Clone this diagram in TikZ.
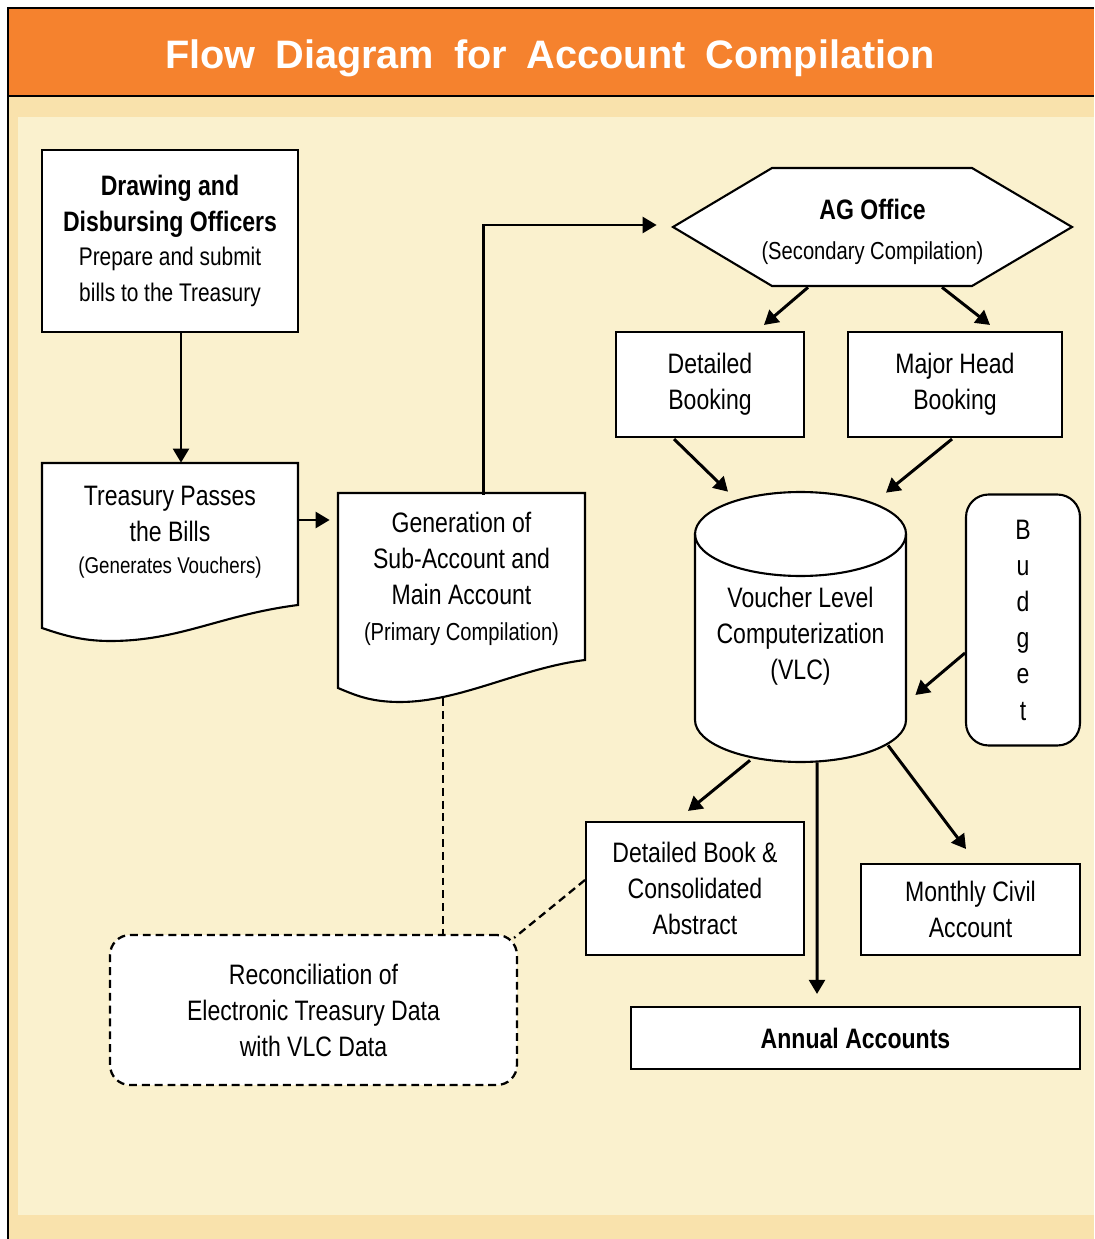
\documentclass[tikz,border=0pt]{standalone}
\usepackage{fontspec}
\setmainfont{Liberation Sans}[FakeStretch=0.82]
\newfontfamily\titlefont{Liberation Sans}[WordSpace=1.8]
\usepackage{xcolor}
\usetikzlibrary{arrows.meta,positioning,calc}
\definecolor{hdrorange}{RGB}{245,130,46}
\definecolor{bandbeige}{RGB}{249,226,172}
\definecolor{panelbeige}{RGB}{250,241,206}
\newcommand{\smalltxt}{\fontsize{14}{17}\selectfont}
\tikzset{
  box/.style={draw, fill=white, line width=1.2pt, align=center, inner sep=0pt},
  txt/.style={align=center, inner sep=0pt},
  shapeline/.style={draw, fill=white, line width=1.2pt},
  arrow/.style={-{Triangle[length=8pt,width=9pt]}, line width=1.7pt},
  dashline/.style={line width=1.3pt, dash pattern=on 4.5pt off 2.8pt}
}

\begin{document}
\begin{tikzpicture}[x=0.02cm, y=-0.02cm, font=\fontsize{16}{20.5}\selectfont]
    \useasboundingbox (0,0) rectangle (1094,1239);
    % Background and header
    \fill[bandbeige] (9,97) rectangle (1094,1239);
    \fill[panelbeige] (18,117) rectangle (1094,1215);
    \fill[hdrorange] (8,8) rectangle (1094,96);
    \draw[line width=1.2pt] (1094,8) -- (8,8) -- (8,1239);
    \draw[line width=1.2pt] (8,96) -- (1094,96);
    \node[txt, text=white] (title) at (550,58)
      {\titlefont\bfseries\fontsize{22.6}{26}\selectfont Flow Diagram for Account Compilation};
    % Left column
    \node[box, minimum width=5.12cm, minimum height=3.64cm] (ddo) at (170,241)
      {\textbf{Drawing and}\\\textbf{Disbursing Officers}\\[-1pt]
       {\fontsize{14.5}{19}\selectfont Prepare and submit}\\
       {\fontsize{14.5}{19}\selectfont bills to the Treasury}};
    \path[shapeline] (42,463) -- (298,463) -- (298,605)
      .. controls (220,615) and (180,641) .. (110,641)
      .. controls (80,641) and (60,634) .. (42,628) -- cycle;
    \node[txt, minimum width=5.12cm, minimum height=2.84cm] (tsy) at (170,532)
      {Treasury Passes\\the Bills\\[-2pt]{\fontsize{13}{16}\selectfont(Generates Vouchers)}};
    \path[shapeline] (338,493) -- (585,493) -- (585,660)
      .. controls (520,668) and (460,702) .. (400,702)
      .. controls (370,702) and (355,695) .. (338,688) -- cycle;
    \node[txt, minimum width=4.94cm, minimum height=3.34cm] (gen) at (461.5,578.5)
      {Generation of\\Sub-Account and\\Main Account\\{\smalltxt(Primary Compilation)}};
    \coordinate (genbot) at (443,698);
    % AG office and bookings
    \path[shapeline] (673,227) -- (772,168) -- (972,168) -- (1072,227)
      -- (972,286) -- (772,286) -- cycle;
    \node[txt, minimum width=7.98cm, minimum height=2.36cm] (ag) at (872.5,232)
      {\textbf{AG Office}\\[2pt]{\smalltxt(Secondary Compilation)}};
    \node[box, minimum width=3.76cm, minimum height=2.10cm] (db) at (710,384.5) {Detailed\\Booking};
    \node[box, minimum width=4.28cm, minimum height=2.10cm] (mhb) at (955,384.5) {Major Head\\Booking};
    % VLC cylinder
    \path[shapeline] (695,534) -- (695,720)
      arc[start angle=180, end angle=360, x radius=2.11cm, y radius=0.84cm]
      -- (906,534) arc[start angle=0, end angle=180, x radius=2.11cm, y radius=0.84cm] -- cycle;
    \draw[line width=1.2pt] (695,534) arc[start angle=180, end angle=360, x radius=2.11cm, y radius=0.84cm];
    \node[txt, minimum width=4.22cm, minimum height=5.40cm] (vlc) at (800.5,636)
      {Voucher Level\\Computerization\\(VLC)};
    \node[box, rounded corners=0.45cm, minimum width=2.28cm, minimum height=5.02cm,
      font=\fontsize{16}{20.6}\selectfont] (bud) at (1023,620) {B\\u\\d\\g\\e\\t};
    % Outputs
    \node[box, minimum width=4.36cm, minimum height=2.66cm] (dbca) at (695,888.5)
      {Detailed Book \&\\Consolidated\\Abstract};
    \node[box, minimum width=4.38cm, minimum height=1.82cm] (mca) at (970.5,909.5)
      {Monthly Civil\\Account};
    \node[box, minimum width=8.98cm, minimum height=1.24cm] (aa) at (855.5,1038)
      {\textbf{Annual Accounts}};
    \node[box, dashline, rounded corners=0.4cm, minimum width=8.14cm, minimum height=3.00cm] (rec) at (313.5,1010)
      {Reconciliation of\\Electronic Treasury Data\\with VLC Data};
    % Connectors
    \draw[arrow] ($(ddo.south)+(11,0)$) -- ($(tsy.north)+(11,2)$);
    \draw[arrow, shorten >=0.16cm] ($(tsy.east)+(0,-12)$) -- ($(gen.west)+(0,-58.5)$);
    \draw[arrow, shorten >=0.32cm] ($(gen.north)+(21.5,0)$) |- ($(ag.west)+(0,-7)$);
    \draw[arrow] ($(ag.south)+(-64.5,-4)$) -- ($(db.north)+(54,-6)$);
    \draw[arrow] ($(ag.south)+(69.5,-4)$) -- ($(mhb.north)+(35,-6)$);
    \draw[arrow] ($(db.south)+(-36,1)$) -- ($(vlc.north)+(-72.5,-9)$);
    \draw[arrow] ($(mhb.south)+(-3,1)$) -- ($(vlc.north)+(85.5,-8)$);
    \draw[arrow] ($(bud.west)+(0,33)$) -- ($(vlc.east)+(9,59)$);
    \draw[arrow] ($(vlc.south)+(-50.5,-11)$) -- ($(dbca.north)+(-7,-10)$);
    \draw[arrow] ($(vlc.south)+(16.5,-9)$) -- ($(aa.north)+(-38.5,-12)$);
    \draw[arrow] ($(vlc.south)+(87.5,-26)$) -- ($(mca.north)+(-4.5,-14)$);
    \draw[dashline] (genbot) -- (genbot |- rec.north);
    \draw[dashline] ($(dbca.west)+(0,-8.5)$) -- ($(rec.north east)+(-4,4)$);
\end{tikzpicture}
\end{document}
